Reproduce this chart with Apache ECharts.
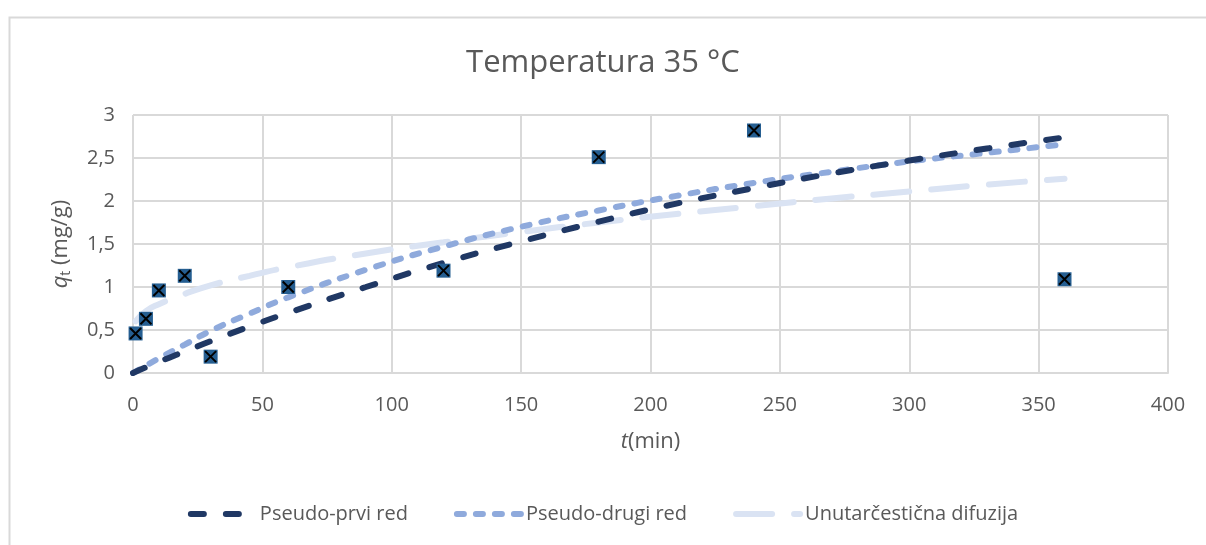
<!DOCTYPE html>
<html><head><meta charset="utf-8">
<script src="https://cdn.jsdelivr.net/npm/echarts@6/dist/echarts.min.js"></script>
<style>html,body{margin:0;padding:0;background:#fff}#c{width:1206px;height:545px}</style>
</head><body><div id="c"></div>
<script>
const expT = [1, 5, 10, 20, 30, 60, 120, 180, 240, 360];
const expQ = [0.46, 0.63, 0.96, 1.13, 0.19, 1.00, 1.19, 2.51, 2.82, 1.09];

const pfoT = [0, 10, 20, 30, 45, 60, 90, 120, 150, 180, 210, 240, 270, 300, 330, 360];
const pfoQ = [0, 0.13, 0.25, 0.37, 0.54, 0.70, 1.00, 1.28, 1.53, 1.76, 1.97, 2.15, 2.32, 2.47, 2.61, 2.74];

const psoT = [0, 10, 20, 30, 45, 60, 90, 120, 150, 180, 210, 240, 270, 300, 330, 360];
const psoQ = [0, 0.17, 0.33, 0.49, 0.69, 0.88, 1.20, 1.47, 1.70, 1.89, 2.06, 2.21, 2.34, 2.46, 2.56, 2.66];

const ipdT = [1, 5, 10, 20, 30, 45, 60, 90, 120, 150, 180, 210, 240, 270, 300, 330, 360];
const ipdQ = [0.60, 0.72, 0.80, 0.92, 1.02, 1.13, 1.23, 1.39, 1.52, 1.64, 1.75, 1.85, 1.94, 2.03, 2.11, 2.19, 2.26];

const xTicks = [0, 50, 100, 150, 200, 250, 300, 350, 400];
const yTicks = [0, 0.5, 1, 1.5, 2, 2.5, 3];
const seriesNames = ['Pseudo-prvi red', 'Pseudo-drugi red', 'Unutarčestična difuzija'];

const zip = (a, b) => a.map((v, i) => [v, b[i]]);
const font = '"Open Sans", "Noto Sans", sans-serif';
const grey = '#595959';
const chart = echarts.init(document.getElementById('c'));
chart.setOption({
  animation: false,
  backgroundColor: '#fff',
  graphic: [{type: 'rect', left: 7, top: 15, shape: {width: 1250, height: 600},
    style: {fill: 'none', stroke: '#d9d9d9', lineWidth: 2}, silent: true, z: -1}],
  title: {text: 'Temperatura 35 °C', left: 'center', top: 43,
    textStyle: {fontFamily: font, fontSize: 31, fontWeight: 'normal', color: grey}},
  grid: {left: 133, right: 38, top: 115, bottom: 172, containLabel: false},
  legend: {bottom: 16, left: 'center', itemWidth: 64, itemHeight: 14, itemGap: 46,
    data: seriesNames,
    itemStyle: {opacity: 0, borderWidth: 0},
    lineStyle: {width: 6, cap: 'round'},
    textStyle: {fontFamily: font, fontSize: 20, color: grey}},
  xAxis: {type: 'value', min: 0, max: 400, interval: 50,
    name: '{i|t}{n|(min)}', nameLocation: 'middle', nameGap: 58,
    nameTextStyle: {rich: {i: {fontFamily: font, fontSize: 22, fontStyle: 'italic', color: grey},
                           n: {fontFamily: font, fontSize: 22, color: grey}}},
    axisLine: {show: true, lineStyle: {color: '#d9d9d9', width: 2}},
    axisTick: {show: false},
    axisLabel: {fontFamily: font, fontSize: 20, color: grey, margin: 22,
      formatter: v => xTicks.includes(v) ? String(v) : ''},
    splitLine: {show: true, lineStyle: {color: '#d9d9d9', width: 2}}},
  yAxis: {type: 'value', min: 0, max: 3, interval: 0.5,
    name: '{i|q}{s|t}{n| (mg/g)}', nameLocation: 'middle', nameGap: 60, nameRotate: 90,
    nameTextStyle: {rich: {i: {fontFamily: font, fontSize: 22, fontStyle: 'italic', color: grey},
                           s: {fontFamily: font, fontSize: 14, color: grey, padding: [10, 0, 0, 0]},
                           n: {fontFamily: font, fontSize: 22, color: grey}}},
    axisLine: {show: false}, axisTick: {show: false},
    axisLabel: {fontFamily: font, fontSize: 20, color: grey, margin: 18,
      formatter: v => yTicks.includes(v) ? String(v).replace('.', ',') : ''},
    splitLine: {show: true, lineStyle: {color: '#d9d9d9', width: 2}}},
  series: [
    {name: seriesNames[2], type: 'line', smooth: true, symbol: 'none', data: zip(ipdT, ipdQ), z: 2,
      lineStyle: {color: '#dae3f3', width: 6, type: [36, 22], cap: 'round'}, itemStyle: {color: '#dae3f3'}},
    {name: seriesNames[1], type: 'line', smooth: true, symbol: 'none', data: zip(psoT, psoQ), z: 3,
      lineStyle: {color: '#8faadc', width: 6, type: [7, 12], cap: 'round'}, itemStyle: {color: '#8faadc'}},
    {name: seriesNames[0], type: 'line', smooth: true, symbol: 'none', data: zip(pfoT, pfoQ), z: 4,
      lineStyle: {color: '#203864', width: 6, type: [13, 22], cap: 'round'}, itemStyle: {color: '#203864'}},
    {name: 'exp', type: 'scatter', data: zip(expT, expQ), symbol: 'rect', symbolSize: 14, z: 5,
      itemStyle: {color: '#255e91', opacity: 1}},
    {name: 'expX', type: 'scatter', data: zip(expT, expQ), symbol: 'path://M0,0L10,10M10,0L0,10', symbolSize: 11, z: 6,
      itemStyle: {color: 'none', borderColor: '#000', borderWidth: 2, opacity: 1}}
  ]
});
</script></body></html>
